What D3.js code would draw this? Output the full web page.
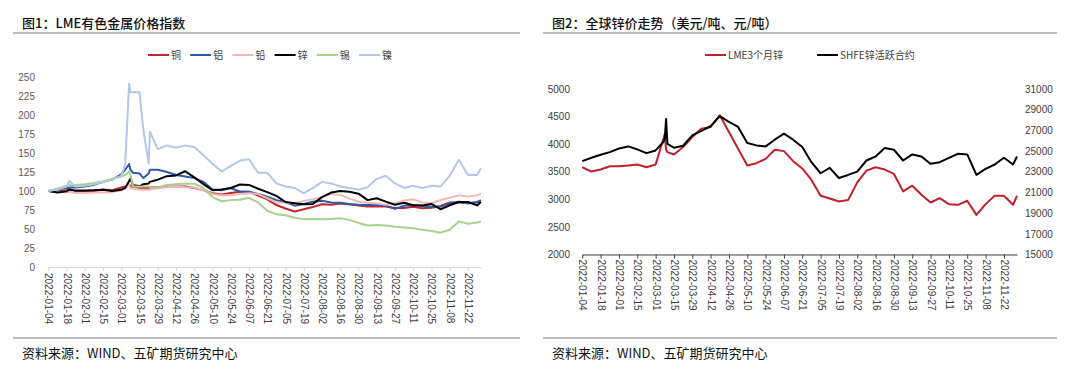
<!DOCTYPE html>
<html>
<head>
<meta charset="utf-8">
<script src="https://cdn.jsdelivr.net/npm/d3@7"></script>
<style>
  body { margin: 0; background: #fff; }
  svg { display: block; }
</style>
</head>
<body>
<svg id="chart" width="1080" height="372"></svg>
<script>
// ---- 图1 data: LME index (2022-01-04 = 100) ----
const indexDates = ['2022-01-04','2022-01-11','2022-01-18','2022-01-20','2022-01-25','2022-02-01','2022-02-08','2022-02-15','2022-02-22','2022-03-01','2022-03-04','2022-03-07','2022-03-08','2022-03-10','2022-03-15','2022-03-16','2022-03-18','2022-03-22','2022-03-23','2022-03-29','2022-04-05','2022-04-12','2022-04-19','2022-04-26','2022-05-03','2022-05-10','2022-05-17','2022-05-24','2022-05-31','2022-06-07','2022-06-14','2022-06-21','2022-06-28','2022-07-05','2022-07-12','2022-07-19','2022-07-26','2022-08-02','2022-08-09','2022-08-16','2022-08-23','2022-08-30','2022-09-06','2022-09-13','2022-09-20','2022-09-27','2022-10-04','2022-10-11','2022-10-18','2022-10-25','2022-11-01','2022-11-08','2022-11-15','2022-11-22','2022-11-29','2022-12-02'];
const copper = [100,99.5,101,102,100,99,100,102,101,104.5,106,108.5,107,104,103.5,103.5,104,104,104.5,105,105.5,106,106,104,101,97,95.5,97.5,99,99,94,89,81.5,77,73,76,79,82.5,82,83.5,82.5,81,79.5,79.5,79.5,77.5,77.5,79.4,77.2,78,80.3,85,85,84,85,86];
const aluminum = [100,102,104,104.5,104.5,106,108,112,115,122,128,135.5,128,124,123,121,117,123,128,128,125,121,119,117,112,102,101,104,99,99,96,92.6,88,85.5,80.7,83,86,87.3,85,84.5,83,82,81.6,81.6,80.5,76.5,80.5,81.6,80.5,79,79.4,84,86,84,85.5,88];
const lead = [100,99,98.5,99,97.5,97.5,98,98,98.5,101,104,108.5,104,103,102,101.5,102,101.5,102,103.5,105,106,105,104.5,101,96,94.5,94.5,96,97,96,90.5,85,84.5,84,87,89,92,96,94.8,90,86,84.5,83.5,82,84,87.5,89,85,84,88.2,91,94.5,92.6,94.5,96];
const zinc = [100,98,99.5,102,100.5,100.5,101,101.5,100,101.5,104,113,116,107.5,106.5,107,109,110,112,115,119.5,120.5,126,118,109,101,102,104,108.5,108,103,98.5,93.5,85.5,84,82.5,83,92,98,100,99,96.5,88,90.5,86,82,84.5,81.3,81,83,76,81.3,85.6,85.6,81,85.6];
const tin = [100,103,107,107.5,108,109,110.5,113,116,119,121,125.5,122,106,106,106,106,106,105,104.5,108,109,110,109.5,104,92,86.5,88,88.5,91,85,74,69.5,68,64.8,62.8,63.2,62.8,63,64,62,58,54.5,55.3,54.5,53,52,50.9,49,47.5,45.2,49,60,57,58.5,60];
const nickel = [100,102,106,113,106,107,109,112,115,120,135,241,230,230,230,212,180,136,178,155,160,157,160,158,147,136,125.5,133,140,141.7,124,124,110,106,104,97,104,112,110,106,104,102,105,116,120,110,104,107,104,107,106,120,141,121,121,130];
const metalNames = ['铜', '铝', '铅', '锌', '锡', '镍'];
const metalColors = ['#c0282e', '#2e5aa8', '#f4b8b8', '#000000', '#a8d18d', '#b4c7e7'];
const indexTicks = [0, 25, 50, 75, 100, 125, 150, 175, 200, 225, 250];

// ---- 图2 data: zinc prices ----
const zincDates = ['2022-01-04','2022-01-11','2022-01-18','2022-01-25','2022-02-01','2022-02-08','2022-02-15','2022-02-22','2022-03-01','2022-03-07','2022-03-08','2022-03-09','2022-03-10','2022-03-15','2022-03-22','2022-03-29','2022-04-05','2022-04-12','2022-04-19','2022-04-26','2022-05-03','2022-05-10','2022-05-17','2022-05-24','2022-05-31','2022-06-07','2022-06-14','2022-06-21','2022-06-28','2022-07-05','2022-07-12','2022-07-19','2022-07-26','2022-08-02','2022-08-09','2022-08-16','2022-08-23','2022-08-30','2022-09-06','2022-09-13','2022-09-20','2022-09-27','2022-10-04','2022-10-11','2022-10-18','2022-10-25','2022-11-01','2022-11-08','2022-11-15','2022-11-22','2022-11-29','2022-12-02'];
const lme3m = [3582,3503,3540,3600,3600,3613,3630,3582,3630,4100,4190,3900,3856,3813,3947,4130,4282,4312,4525,4221,3917,3613,3655,3734,3899,3874,3692,3560,3351,3065,3016,2962,2986,3308,3521,3582,3540,3460,3144,3247,3083,2943,3022,2913,2901,2974,2718,2913,3065,3065,2901,3065];
const shfe = [24023,24348,24640,24900,25250,25450,25160,24800,25060,25900,26200,28100,25700,25321,25516,26522,26944,27400,28372,27820,27333,25776,25549,25451,26100,26684,26100,25400,23926,22855,23374,22400,22693,23017,24088,24478,25289,25127,24088,24672,24478,23764,23926,24348,24737,24672,22700,23277,23700,24348,23700,24478];
const zincNames = ['LME3个月锌', 'SHFE锌活跃合约'];
const zincColors = ['#c0202a', '#000000'];
const usdTicks = [2000, 2500, 3000, 3500, 4000, 4500, 5000];
const cnyTicks = [15000, 17000, 19000, 21000, 23000, 25000, 27000, 29000, 31000];

const tickLabels = ['2022-01-04','2022-01-18','2022-02-01','2022-02-15','2022-03-01','2022-03-15','2022-03-29','2022-04-12','2022-04-26','2022-05-10','2022-05-24','2022-06-07','2022-06-21','2022-07-05','2022-07-19','2022-08-02','2022-08-16','2022-08-30','2022-09-13','2022-09-27','2022-10-11','2022-10-25','2022-11-08','2022-11-22'];

const CJK = '"Noto Sans CJK SC", sans-serif';
const NUM = '"Liberation Sans", Arial, sans-serif';
const parse = d3.timeParse('%Y-%m-%d');
const fmt = d3.timeFormat('%Y-%m-%d');
const svg = d3.select('#chart');

// titles, rules, source
const frame = (x0, x1, title) => {
  svg.append('text').attr('x', x0 + 9).attr('y', 28)
    .style('font-family', CJK).style('font-size', '13px').style('font-weight', 500)
    .attr('fill', '#111').text(title);
  svg.append('line').attr('x1', x0).attr('x2', x1).attr('y1', 33).attr('y2', 33)
    .attr('stroke', '#a6a6a6').attr('stroke-width', 1.5);
  svg.append('line').attr('x1', x0).attr('x2', x1).attr('y1', 338).attr('y2', 338)
    .attr('stroke', '#a6a6a6').attr('stroke-width', 1.5);
  svg.append('text').attr('x', x0 + 9).attr('y', 358)
    .style('font-family', CJK).style('font-size', '13px')
    .attr('fill', '#111').text('资料来源：WIND、五矿期货研究中心');
};
frame(13, 520, '图1：LME有色金属价格指数');
frame(543, 1057, '图2：全球锌价走势（美元/吨、元/吨）');

const legend = (items, colors, x0, step) => {
  items.forEach((name, i) => {
    const lx = x0 + i * step;
    svg.append('line').attr('x1', lx).attr('x2', lx + 21).attr('y1', 55).attr('y2', 55)
      .attr('stroke', colors[i]).attr('stroke-width', 2);
    svg.append('text').attr('x', lx + 23).attr('y', 55).attr('dy', '0.35em')
      .style('font-family', CJK).style('font-size', '10px')
      .attr('fill', '#404040').text(name);
  });
};

const styleXAxis = (g, col, pad) => {
  g.select('.domain').attr('stroke', col).attr('stroke-width', 1.2);
  g.selectAll('.tick line').attr('stroke', col);
  g.selectAll('.tick text')
    .attr('transform', 'rotate(90)').attr('text-anchor', 'start')
    .attr('x', pad).attr('y', 0).attr('dy', '0.35em')
    .style('font-family', NUM).style('font-size', '10px').attr('fill', '#404040');
};

const plain = d3.format('d');

// ---------- 图1 ----------
const xL = d3.scaleTime().domain([parse('2022-01-04'), parse('2022-12-02')]).range([48.3, 481]);
const yL = d3.scaleLinear().domain([0, 250]).range([267, 77]);

legend(metalNames, metalColors, 148, 42.2);

const gxL = svg.append('g').attr('transform', 'translate(0,267)')
  .call(d3.axisBottom(xL).tickValues(tickLabels.map(parse)).tickFormat(fmt).tickSize(4).tickSizeOuter(0));
styleXAxis(gxL, '#d9d9d9', 6);

const gyL = svg.append('g').attr('transform', 'translate(35,0)')
  .call(d3.axisLeft(yL).tickValues(indexTicks).tickFormat(plain).tickSize(0).tickPadding(0));
gyL.select('.domain').remove();
gyL.selectAll('text').style('font-family', NUM).style('font-size', '10px').attr('fill', '#595959');

const metalSeries = [copper, aluminum, lead, zinc, tin, nickel];
const lineL = d3.line().x(d => xL(d[0])).y(d => yL(d[1]));
metalSeries.forEach((vals, i) => {
  const pts = indexDates.map((d, j) => [parse(d), vals[j]]);
  svg.append('path').datum(pts).attr('d', lineL)
    .attr('fill', 'none').attr('stroke', metalColors[i]).attr('stroke-width', 2)
    .attr('stroke-linejoin', 'round');
});

// ---------- 图2 ----------
const xR = d3.scaleTime().domain([parse('2022-01-04'), parse('2022-12-02')]).range([582.3, 1017]);
const yUsd = d3.scaleLinear().domain([2000, 5000]).range([254.5, 89]);
const yCny = d3.scaleLinear().domain([15000, 31000]).range([254.5, 89]);

legend(zincNames, zincColors, 705, 112);

const gxR = svg.append('g').attr('transform', 'translate(0,254.5)')
  .call(d3.axisBottom(xR).tickValues(tickLabels.map(parse)).tickFormat(fmt).tickSize(4).tickSizeOuter(0));
styleXAxis(gxR, '#404040', 5);

const gyR1 = svg.append('g').attr('transform', 'translate(570,0)')
  .call(d3.axisLeft(yUsd).tickValues(usdTicks).tickFormat(plain).tickSize(0).tickPadding(0));
gyR1.select('.domain').remove();
gyR1.selectAll('text').style('font-family', NUM).style('font-size', '10px').attr('fill', '#404040');

const gyR2 = svg.append('g').attr('transform', 'translate(1025,0)')
  .call(d3.axisRight(yCny).tickValues(cnyTicks).tickFormat(plain).tickSize(0).tickPadding(0));
gyR2.select('.domain').remove();
gyR2.selectAll('text').style('font-family', NUM).style('font-size', '10px').attr('fill', '#404040');

const lineUsd = d3.line().x(d => xR(d[0])).y(d => yUsd(d[1]));
const lineCny = d3.line().x(d => xR(d[0])).y(d => yCny(d[1]));
svg.append('path').datum(zincDates.map((d, j) => [parse(d), lme3m[j]])).attr('d', lineUsd)
  .attr('fill', 'none').attr('stroke', zincColors[0]).attr('stroke-width', 2).attr('stroke-linejoin', 'round');
svg.append('path').datum(zincDates.map((d, j) => [parse(d), shfe[j]])).attr('d', lineCny)
  .attr('fill', 'none').attr('stroke', zincColors[1]).attr('stroke-width', 2).attr('stroke-linejoin', 'round');
</script>
</body>
</html>
